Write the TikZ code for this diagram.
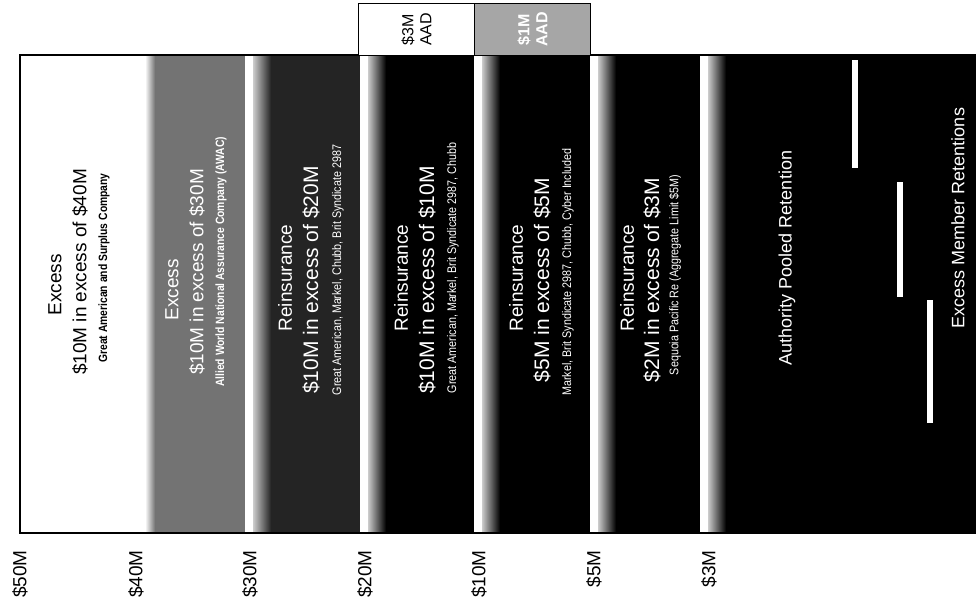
\documentclass[tikz,border=0pt]{standalone}
\usepackage{fontspec}
\setmainfont{Liberation Sans}
\newfontfamily\narrowfont[FakeStretch=0.86]{Liberation Sans}
\begin{document}
\begin{tikzpicture}[x=1pt,y=-1pt,
  big/.style={rotate=90, font=\fontsize{21}{25}\selectfont, inner sep=0pt},
  mid/.style={rotate=90, font=\fontsize{19}{23}\selectfont, inner sep=0pt},
  retn/.style={rotate=90, font=\fontsize{18}{22}\selectfont, inner sep=0pt},
  small/.style={rotate=90, font=\narrowfont\fontsize{12.5}{15}\selectfont, inner sep=0pt},
  smallbold/.style={rotate=90, font=\narrowfont\bfseries\fontsize{12}{15}\selectfont, inner sep=0pt},
  axlabel/.style={rotate=90, anchor=east, font=\fontsize{19}{22}\selectfont, inner sep=0pt},
  aad/.style={rotate=90, align=center, font=\fontsize{16}{18}\selectfont, inner sep=0pt},
  onwhite/.style={text=black},
  ondark/.style={text=white}]
\useasboundingbox (0,0) rectangle (980,608);
\fill[white] (0,0) rectangle (980,608);
% column 1 white
\fill[white] (20,55) rectangle (147,533);
% column 2 gray
\fill[black!55] (150,55) rectangle (245,533);
\shade[left color=white, right color=black!55] (145,55) rectangle (155,533);
% dark columns
\foreach \xa/\xb/\base in {245/360/86,360/474/100,474/590/100,590/700/100,700/975/100}{
  \fill[black!\base] (\xa,55) rectangle (\xb,533);
  \fill[white] (\xa,55) rectangle (\xa+8,533);
  \shade[left color=black!20, right color=black!\base] (\xa+8,55) rectangle (\xa+26,533);
}
% white bars in last column
\fill[white] (852,60) rectangle (858,168);
\fill[white] (897,182) rectangle (903,297);
\fill[white] (927,300) rectangle (933,423);
% outline
\draw[line width=1.5pt] (20,55) rectangle (975,533);
% AAD boxes
\node[draw, line width=1pt, fill=white, minimum width=116pt, minimum height=52pt, anchor=north west, inner sep=0pt] (aad3) at (358,3) {};
\node[draw, line width=1pt, fill=black!35, minimum width=116pt, minimum height=52pt, anchor=north west, inner sep=0pt] (aad1) at (474,3) {};
\node[aad] (aad3t) at (aad3.center) {\$3M\\AAD};
\node[aad, text=white, font=\bfseries\fontsize{16}{18}\selectfont] (aad1t) at (aad1.center) {\$1M\\AAD};
% column texts
\node[mid,onwhite] (c1a) at (55,285) {Excess};
\node[mid,onwhite] (c1b) at (80,272) {\$10M in excess of \$40M};
\node[smallbold,onwhite] (c1c) at (104,268) {Great American and Surplus Company};
\node[mid,ondark] (c2a) at (172,290) {Excess};
\node[mid,ondark] (c2b) at (197,272) {\$10M in excess of \$30M};
\node[smallbold,ondark] (c2c) at (221,262) {Allied World National Assurance Company (AWAC)};
\node[mid,ondark] (c3a) at (285,278) {Reinsurance};
\node[big,ondark] (c3b) at (311,280) {\$10M in excess of \$20M};
\node[small,ondark] (c3c) at (338,270) {Great American, Markel, Chubb, Brit Syndicate 2987};
\node[mid,ondark] (c4a) at (401,278) {Reinsurance};
\node[big,ondark] (c4b) at (427,280) {\$10M in excess of \$10M};
\node[small,ondark] (c4c) at (453,268) {Great American, Markel, Brit Syndicate 2987, Chubb};
\node[mid,ondark] (c5a) at (516,278) {Reinsurance};
\node[big,ondark] (c5b) at (542,280) {\$5M in excess of \$5M};
\node[small,ondark] (c5c) at (568,272) {Markel, Brit Syndicate 2987, Chubb, Cyber Included};
\node[mid,ondark] (c6a) at (627,278) {Reinsurance};
\node[big,ondark] (c6b) at (652,280) {\$2M in excess of \$3M};
\node[small,ondark] (c6c) at (675,275) {Sequoia Pacific Re (Aggregate Limit \$5M)};
\node[retn,ondark] (c7a) at (787,258) {Authority Pooled Retention};
\node[retn,ondark] (c7b) at (958,218) {Excess Member Retentions};
% axis labels
\node[axlabel] (l50) at (20,550) {\$50M};
\node[axlabel] (l40) at (136,550) {\$40M};
\node[axlabel] (l30) at (250,550) {\$30M};
\node[axlabel] (l20) at (365,550) {\$20M};
\node[axlabel] (l10) at (479,550) {\$10M};
\node[axlabel] (l5) at (594,550) {\$5M};
\node[axlabel] (l3) at (709,550) {\$3M};
\end{tikzpicture}
\end{document}
